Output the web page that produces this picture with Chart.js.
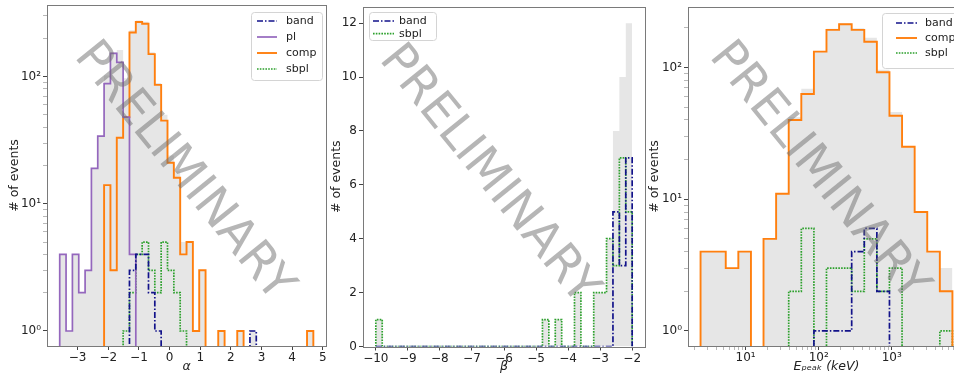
<!DOCTYPE html>
<html>
<head>
<meta charset="utf-8">
<script src="https://cdn.jsdelivr.net/npm/chart.js@4.4.1/dist/chart.umd.min.js"></script>
<style>
  html, body { margin: 0; padding: 0; background: #fff; overflow: hidden; }
  body { width: 954px; height: 375px; position: relative; }
  .panel { position: absolute; top: 0; height: 375px; }
</style>
</head>
<body>
<div class="panel" style="left:0;width:330px"><canvas id="alphaChart"></canvas></div>
<div class="panel" style="left:322px;width:328px"><canvas id="betaChart"></canvas></div>
<div class="panel" style="left:640px;width:330px"><canvas id="epeakChart"></canvas></div>
<script>
// ---- alpha panel (40 bins) ----
const alphaEdges = [-3.585, -3.378, -3.171, -2.964, -2.757, -2.551, -2.344, -2.137, -1.930, -1.723,
  -1.516, -1.309, -1.102, -0.895, -0.688, -0.482, -0.275, -0.068, 0.139, 0.346,
  0.553, 0.760, 0.967, 1.174, 1.381, 1.588, 1.795, 2.001, 2.208, 2.415,
  2.622, 2.829, 3.036, 3.243, 3.450, 3.657, 3.864, 4.071, 4.278, 4.485, 4.691];
const alphaBand = [0,0,0,0,0,0,0,0,0,0, 0,3,4,4,2,1,0,0,0,0, 0,0,0,0,0,0,0,0,0,0, 1,0,0,0,0,0,0,0,0,0];
const alphaPl   = [4,1,4,2,3,19,34,88,152,129, 48,4,0,0,0,0,0,0,0,0, 0,0,0,0,0,0,0,0,0,0, 0,0,0,0,0,0,0,0,0,0];
const alphaComp = [0,0,0,0,0,0,0,14,3,33, 48,222,268,260,150,86,45,21,16,4, 5,1,3,0,0,1,0,0,1,0, 0,0,0,0,0,0,0,0,0,1];
const alphaSbpl = [0,0,0,0,0,0,0,0,0,0, 1,2,4,5,3,2,5,3,2,1, 0,0,0,0,0,0,0,0,0,0, 0,0,0,0,0,0,0,0,0,0];
const alphaAll  = [4,1,4,2,3,19,34,102,155,162, 97,231,276,269,155,89,50,24,18,5, 5,1,3,0,0,1,0,0,1,0, 1,0,0,0,0,0,0,0,0,1];
const alphaTicks = [-3, -2, -1, 0, 1, 2, 3, 4, 5];

// ---- beta panel (40 bins) ----
const betaEdges = [-10, -9.8, -9.6, -9.4, -9.2, -9, -8.8, -8.6, -8.4, -8.2,
  -8, -7.8, -7.6, -7.4, -7.2, -7, -6.8, -6.6, -6.4, -6.2,
  -6, -5.8, -5.6, -5.4, -5.2, -5, -4.8, -4.6, -4.4, -4.2,
  -4, -3.8, -3.6, -3.4, -3.2, -3, -2.8, -2.6, -2.4, -2.2, -2];
const betaBand = [0,0,0,0,0,0,0,0,0,0, 0,0,0,0,0,0,0,0,0,0, 0,0,0,0,0,0,0,0,0,0, 0,0,0,0,0,0,0,5,3,7];
const betaSbpl = [1,0,0,0,0,0,0,0,0,0, 0,0,0,0,0,0,0,0,0,0, 0,0,0,0,0,0,1,0,1,0, 0,2,0,0,2,2,4,3,7,5];
const betaAll  = [1,0,0,0,0,0,0,0,0,0, 0,0,0,0,0,0,0,0,0,0, 0,0,0,0,0,0,1,0,1,0, 0,2,0,0,2,2,4,8,10,12];
const betaTicks = [-10, -9, -8, -7, -6, -5, -4, -3, -2];
const countTicks = [0, 2, 4, 6, 8, 10, 12];

// ---- Epeak panel (20 log bins, keV) ----
const epeakEdges = [2.421, 3.600, 5.354, 7.960, 11.84, 17.60, 26.17, 38.92, 57.87, 86.06,
  127.9, 190.3, 282.9, 420.7, 625.6, 930.0, 1383, 2057, 3058, 4547, 6761];
const epeakBand = [0,0,0,0,0,0,0,0,0,1, 1,1,4,6,2,0,0,0,0,0];
const epeakComp = [4,4,3,4,0,5,11,40,63,132, 193,213,193,157,92,43,25,8,4,2];
const epeakSbpl = [0,0,0,0,0,0,0,2,6,0, 3,3,2,5,2,3,0,0,0,1];
const epeakAll  = [4,4,3,4,0,5,11,42,69,133, 197,217,199,168,96,46,25,8,4,3];
const epeakTicks = [2,3,4,5,6,7,8,9, 10,20,30,40,50,60,70,80,90, 100,200,300,400,500,600,700,800,900,
  1000,2000,3000,4000,5000,6000,7000,8000,9000, 10000];
const logCountTicksA = [1,2,3,4,5,6,7,8,9, 10,20,30,40,50,60,70,80,90, 100,200,300];
const logCountTicksE = [1,2,3,4,5,6,7,8,9, 10,20,30,40,50,60,70,80,90, 100,200];

Chart.defaults.font.family = "'DejaVu Sans', sans-serif";
Chart.defaults.color = '#222';

const BAND = '#12128a', PL = '#9467bd', COMP = '#ff7f0e', SBPL = '#2ca02c';
const SUP = {'0': '\u2070', '1': '\u00b9', '2': '\u00b2', '3': '\u00b3', '4': '\u2074'};

function stepPoints(edges, counts, floor) {
  const pts = [{x: edges[0], y: floor}];
  counts.forEach((c, i) => pts.push({x: edges[i], y: c > 0 ? c : floor}));
  pts.push({x: edges[edges.length - 1], y: floor});
  return pts;
}

function lineSet(label, edges, counts, floor, color, dash, width) {
  return {
    label: label,
    data: stepPoints(edges, counts, floor),
    borderColor: color,
    borderDash: dash,
    borderWidth: width,
    stepped: 'before',
    pointRadius: 0,
    fill: false
  };
}

function fillSet(edges, counts, floor) {
  return {
    label: 'all',
    inLegend: false,
    data: stepPoints(edges, counts, floor),
    borderColor: 'rgba(0,0,0,0)',
    borderWidth: 0,
    backgroundColor: '#e6e6e6',
    fill: 'start',
    stepped: 'before',
    pointRadius: 0
  };
}

function isPow10(v) {
  const l = Math.log10(v);
  return Math.abs(l - Math.round(l)) < 1e-9;
}
function powLabel(v) {
  return isPow10(v) ? '10' + SUP[String(Math.round(Math.log10(v)))] : '';
}
function numLabel(v) {
  return v < 0 ? '\u2212' + Math.abs(v) : String(v);
}

function axis(opts) {
  return {
    type: opts.type,
    min: opts.min,
    max: opts.max,
    afterBuildTicks: s => { s.ticks = opts.ticks.map(v => ({value: v, major: opts.type !== 'logarithmic' || isPow10(v)})); },
    afterFit: s => {
      if (opts.width !== undefined) s.width = opts.width;
      if (opts.height !== undefined) s.height = opts.height;
      s.paddingLeft = 0; s.paddingRight = 0; s.paddingTop = 0; s.paddingBottom = 0;
    },
    border: {display: false},
    grid: {
      drawOnChartArea: false,
      drawTicks: true,
      tickLength: 4,
      tickColor: c => (c.tick && c.tick.major) ? '#444' : '#888',
      tickWidth: c => (c.tick && c.tick.major) ? 1 : 0.6
    },
    ticks: {
      autoSkip: false,
      maxRotation: 0,
      padding: opts.tickPad,
      font: {size: 12},
      color: '#222',
      callback: opts.type === 'logarithmic' ? (v => powLabel(v)) : (v => numLabel(v))
    },
    title: {
      display: true,
      text: opts.title,
      font: {size: 12.5, style: opts.italic ? 'italic' : 'normal'},
      color: '#222',
      padding: opts.titlePad
    }
  };
}

const framePlugin = {
  id: 'frame',
  afterDatasetsDraw(chart) {
    const a = chart.chartArea, ctx = chart.ctx;
    ctx.save();
    ctx.strokeStyle = '#7a7a7a';
    ctx.lineWidth = 1;
    ctx.strokeRect(Math.round(a.left) + 0.5, Math.round(a.top) + 0.5,
      Math.round(a.right - a.left), Math.round(a.bottom - a.top));
    ctx.restore();
  }
};

const boxLegend = {
  id: 'boxLegend',
  afterDraw(chart, args, o) {
    const ctx = chart.ctx;
    const items = chart.data.datasets.filter(d => d.inLegend !== false);
    ctx.save();
    ctx.beginPath();
    ctx.roundRect(o.x + 0.5, o.y + 0.5, o.w, o.h, 3);
    ctx.fillStyle = 'rgba(255,255,255,0.85)';
    ctx.fill();
    ctx.strokeStyle = '#d4d4d4';
    ctx.lineWidth = 1;
    ctx.stroke();
    ctx.font = "11px 'DejaVu Sans'";
    ctx.textBaseline = 'middle';
    items.forEach((d, i) => {
      const y = o.y + o.first + i * o.step;
      ctx.strokeStyle = d.borderColor;
      ctx.lineWidth = d.borderWidth;
      ctx.setLineDash(d.borderDash || []);
      ctx.beginPath();
      ctx.moveTo(o.x + o.lineX, y);
      ctx.lineTo(o.x + o.lineX + o.lineW, y);
      ctx.stroke();
      ctx.setLineDash([]);
      ctx.fillStyle = '#222';
      ctx.fillText(d.label, o.x + o.textX, y);
    });
    ctx.restore();
  }
};

const watermark = {
  id: 'watermark',
  afterDraw(chart, args, o) {
    const ctx = chart.ctx;
    ctx.save();
    ctx.translate(o.x, o.y);
    ctx.rotate(o.angle * Math.PI / 180);
    ctx.font = "48px 'DejaVu Sans'";
    ctx.fillStyle = 'rgba(110,110,110,0.5)';
    ctx.textAlign = 'center';
    ctx.textBaseline = 'middle';
    ctx.fillText('PRELIMINARY', 0, 0);
    ctx.restore();
  }
};

function makeChart(id, datasets, xAxis, yAxis, padding, legendBox, mark) {
  return new Chart(document.getElementById(id), {
    type: 'line',
    data: {datasets: datasets},
    options: {
      responsive: true,
      maintainAspectRatio: false,
      animation: false,
      devicePixelRatio: 1,
      layout: {padding: padding},
      scales: {x: xAxis, y: yAxis},
      plugins: {
        legend: {display: false},
        tooltip: {enabled: false},
        boxLegend: legendBox,
        watermark: mark
      }
    },
    plugins: [framePlugin, boxLegend, watermark]
  });
}

const LW = 1.7;
const DASHDOT = [6, 2, 1.5, 2];
const DOTTED = [1.6, 1.2];

// panel 1: alpha
makeChart('alphaChart', [
  lineSet('band', alphaEdges, alphaBand, 0.1, BAND, DASHDOT, LW),
  lineSet('pl', alphaEdges, alphaPl, 0.1, PL, [], LW),
  lineSet('comp', alphaEdges, alphaComp, 0.1, COMP, [], LW + 0.2),
  lineSet('sbpl', alphaEdges, alphaSbpl, 0.1, SBPL, DOTTED, LW),
  fillSet(alphaEdges, alphaAll, 0.1)
],
  axis({type: 'linear', min: -4.0, max: 5.104, ticks: alphaTicks, height: 29, tickPad: 1,
        title: '\u03b1', italic: true, titlePad: {top: 0, bottom: 1}}),
  axis({type: 'logarithmic', min: 0.762, max: 365, ticks: logCountTicksA, width: 47, tickPad: 2,
        title: '# of events', titlePad: {top: 7, bottom: 0}}),
  {top: 5, right: 4, left: 0, bottom: 0},
  {x: 251, y: 12, w: 71, h: 68, first: 9, step: 16, lineX: 6, lineW: 20, textX: 35},
  {x: 183, y: 172, angle: 51}
);

// panel 2: beta
makeChart('betaChart', [
  lineSet('band', betaEdges, betaBand, 0, BAND, DASHDOT, LW),
  lineSet('sbpl', betaEdges, betaSbpl, 0, SBPL, DOTTED, LW),
  fillSet(betaEdges, betaAll, 0)
],
  axis({type: 'linear', min: -10.4, max: -1.6, ticks: betaTicks, height: 28.5, tickPad: 1,
        title: '\u03b2', italic: true, titlePad: {top: 0, bottom: 1}}),
  axis({type: 'linear', min: 0, max: 12.6, ticks: countTicks, width: 41, tickPad: 2,
        title: '# of events', titlePad: {top: 7, bottom: 0}}),
  {top: 7, right: 5, left: 0, bottom: 0},
  {x: 47, y: 12, w: 67, h: 28, first: 9, step: 12.7, lineX: 4, lineW: 21, textX: 30},
  {x: 166, y: 175, angle: 51}
);

// panel 3: Epeak
makeChart('epeakChart', [
  lineSet('band', epeakEdges, epeakBand, 0.1, BAND, DASHDOT, LW),
  lineSet('comp', epeakEdges, epeakComp, 0.1, COMP, [], LW + 0.2),
  lineSet('sbpl', epeakEdges, epeakSbpl, 0.1, SBPL, DOTTED, LW),
  fillSet(epeakEdges, epeakAll, 0.1)
],
  axis({type: 'logarithmic', min: 1.63, max: 10046, ticks: epeakTicks, height: 29, tickPad: 1,
        title: 'E\u209a\u2091\u2090\u2096 (keV)', italic: true, titlePad: {top: 0, bottom: 1}}),
  axis({type: 'logarithmic', min: 0.769, max: 288, ticks: logCountTicksE, width: 48, tickPad: 2,
        title: '# of events', titlePad: {top: 7, bottom: 0}}),
  {top: 7, right: 5, left: 0, bottom: 0},
  {x: 242, y: 13, w: 85, h: 55, first: 10, step: 15, lineX: 14, lineW: 21, textX: 43},
  {x: 178, y: 172, angle: 51}
);
</script>
</body>
</html>
